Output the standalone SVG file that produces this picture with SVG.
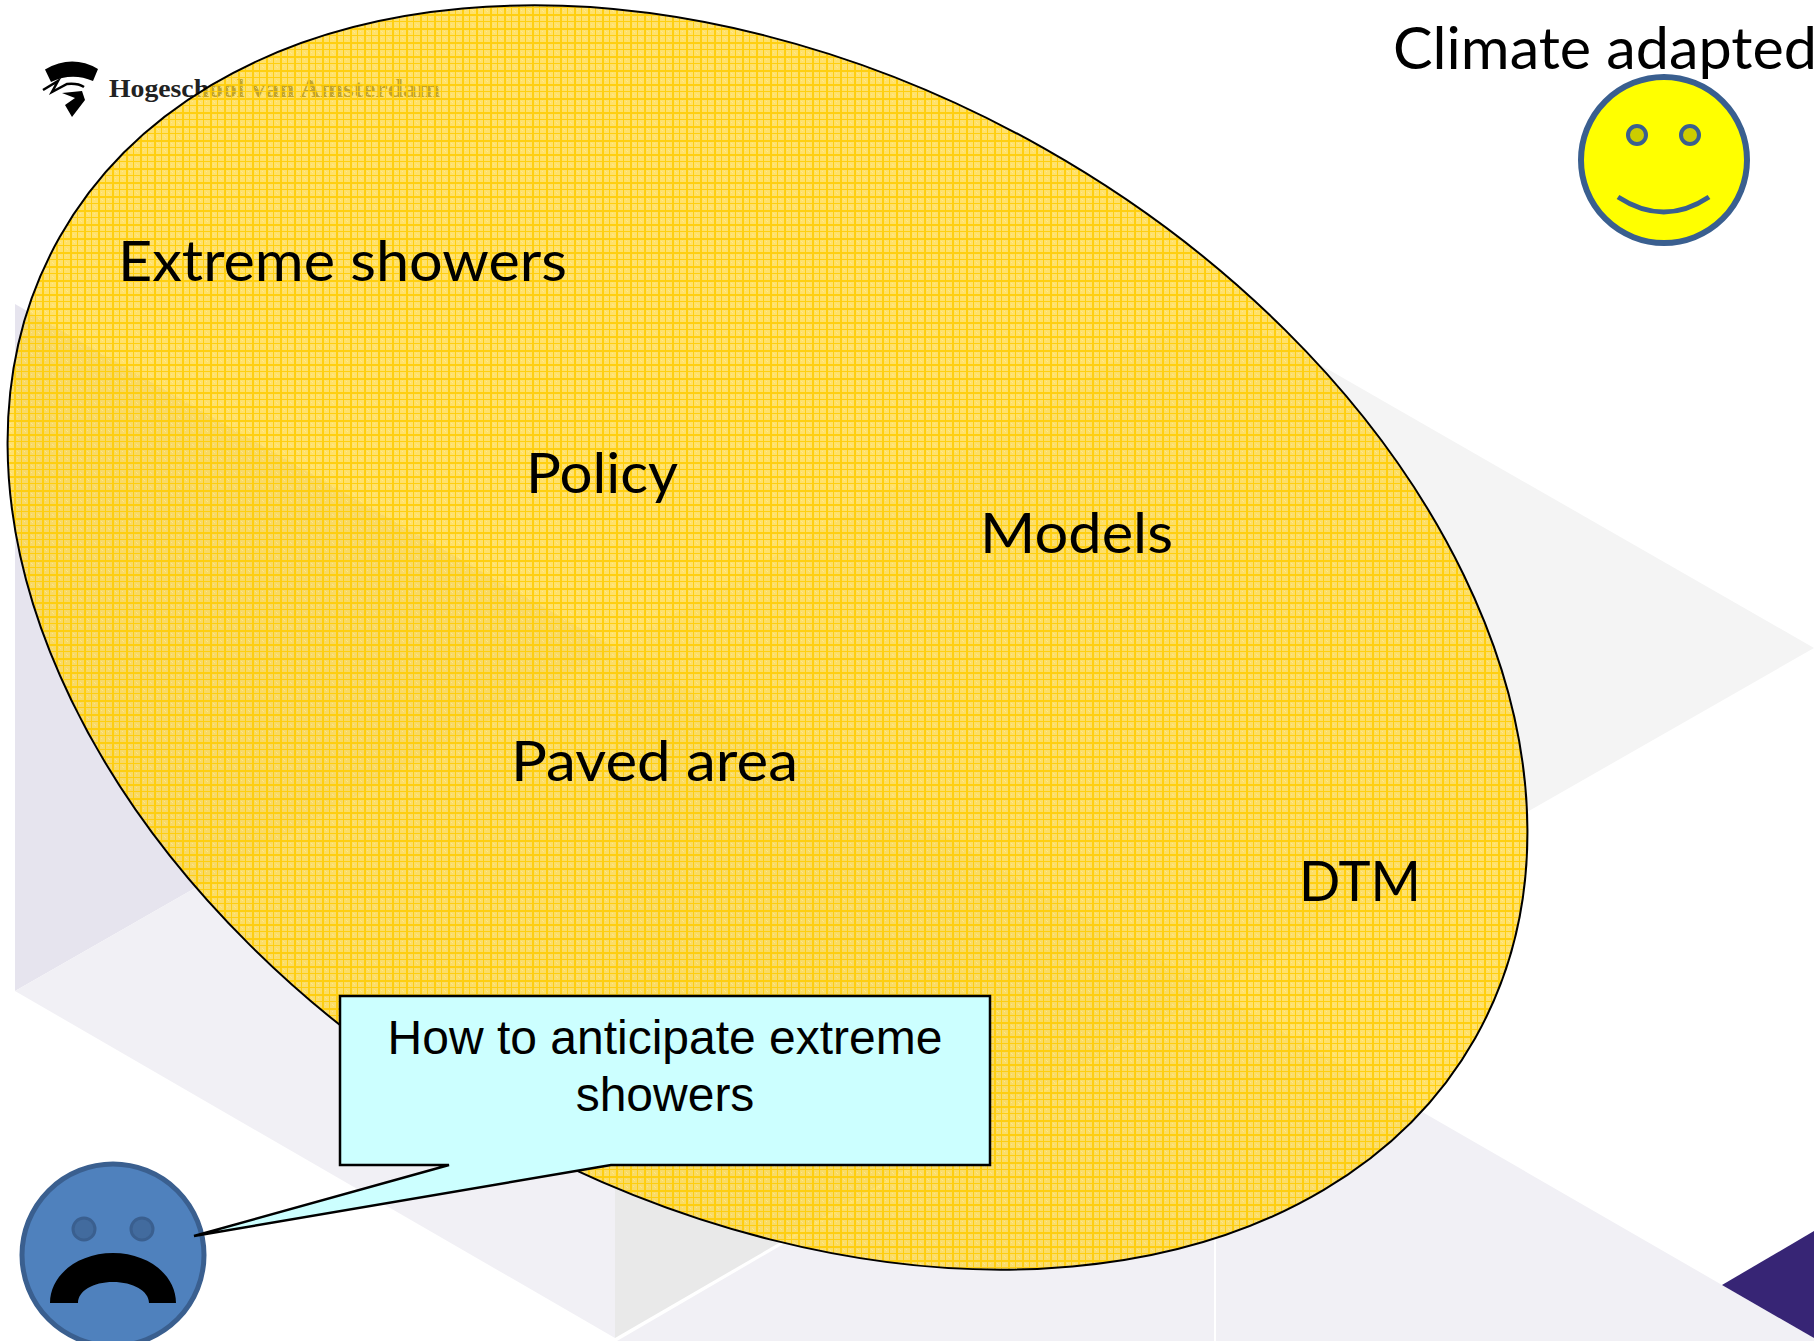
<svg xmlns="http://www.w3.org/2000/svg" width="1814" height="1341" viewBox="0 0 1814 1341">
<style>
.lab{font-family:"Lato","Liberation Sans",sans-serif;font-size:56px;fill:#000}
.call{font-family:"Liberation Sans",Arial,sans-serif;font-size:48px;fill:#000;text-anchor:middle}
.face{stroke:#3A5F8F}
</style>
<defs>
<pattern id="weave" width="14" height="14" patternUnits="userSpaceOnUse">
<rect width="14" height="14" fill="#FFD633" fill-opacity="0.72"/>
<path d="M3 3h1v1h-1zM10 3h1v1h-1zM3 10h1v1h-1zM10 10h1v1h-1zM4 4h1v1h-1zM11 11h1v1h-1z" fill="#FFEFA0" fill-opacity="0.6"/>
<path d="M0 0h2v14h-2zM7 0h1v14h-1zM0 0h14v2h-14zM0 7h14v1h-14z" fill="#FFCC00" fill-opacity="0.85"/>
</pattern>
</defs>
<rect width="1814" height="1341" fill="#fff"/>
<g id="background">
<polygon points="15,304 15,991 615,648" fill="#E6E4EE"/>
<polygon points="15,991 615,648 615,1338" fill="#F1F0F5"/>
<polygon points="615,648 615,1338 1214,991" fill="#E9E9E9"/>
<polygon points="615,648 1214,304 1214,991" fill="#F6F6F6"/>
<polygon points="1214,304 1814,648 1214,991" fill="#F4F4F4"/>
<polygon points="617,1341 1214,993 1214,1341" fill="#F1F0F5"/>
<polygon points="1216,993 1814,1338 1814,1341 1216,1341" fill="#F1F0F5"/>
<polygon points="1722,1285 1814,1231 1814,1338" fill="#372575"/>
</g>
<g id="logo">
<path d="M45 69.500Q72 54 98 69L93 81Q72 72 51 82Z" fill="#000"/>
<path d="M43 90L58 81L52 92L67 84Q78 83 84 87" fill="none" stroke="#000" stroke-width="2.500"/>
<path d="M62 93L82 91L85 100L72 117L65 105L75 98Z" fill="#000"/>
<text x="109" y="97" font-family="'Liberation Serif',serif" font-weight="700" font-size="25" fill="#222" textLength="331" lengthAdjust="spacingAndGlyphs">Hogeschool van Amsterdam</text>
</g>
<g id="ellipse">
<path d="M59.700 237.100A813.200 561.900 29.500 1 1 1475.300 1037.900A813.200 561.900 29.500 1 1 59.700 237.100Z" fill="url(#weave)" stroke="#000" stroke-width="2"/>
</g>
<g id="label-climate"><text class="lab" x="1393" y="69" style="font-size:58px" textLength="424" lengthAdjust="spacingAndGlyphs">Climate adapted</text></g>
<g id="label-extreme"><text class="lab" x="118" y="281" textLength="449" lengthAdjust="spacingAndGlyphs">Extreme showers</text></g>
<g id="label-policy"><text class="lab" x="526" y="493" textLength="152" lengthAdjust="spacingAndGlyphs">Policy</text></g>
<g id="label-models"><text class="lab" x="980" y="553" textLength="193" lengthAdjust="spacingAndGlyphs">Models</text></g>
<g id="label-paved"><text class="lab" x="511" y="781" textLength="287" lengthAdjust="spacingAndGlyphs">Paved area</text></g>
<g id="label-dtm"><text class="lab" x="1299" y="901" textLength="122" lengthAdjust="spacingAndGlyphs">DTM</text></g>
<g id="happy-face">
<circle class="face" cx="1664" cy="160" r="83" fill="#FFFF00" stroke-width="6"/>
<circle class="face" cx="1637" cy="135" r="9" fill="#CCCC00" stroke-width="4"/>
<circle class="face" cx="1690" cy="135" r="9" fill="#CCCC00" stroke-width="4"/>
<path class="face" d="M1618 197Q1664 227 1709 197" fill="none" stroke-width="5"/>
</g>
<g id="sad-face">
<circle class="face" cx="113" cy="1255" r="91" fill="#4F81BD" stroke-width="5"/>
<circle cx="84" cy="1229" r="11" fill="#426B9E" stroke="#3A5F8F" stroke-width="3"/>
<circle cx="142" cy="1229" r="11" fill="#426B9E" stroke="#3A5F8F" stroke-width="3"/>
<path d="M50 1303C50 1275 78 1253 113 1253C148 1253 176 1275 176 1303H149C149 1291 133 1282 113 1282C93 1282 78 1291 78 1303Z" fill="#000"/>
</g>
<g id="callout">
<path d="M340 996H990V1165H611L194 1236L449 1165H340Z" fill="#CCFFFF" stroke="#000" stroke-width="2.500"/>
<text class="call" x="665" y="1054">How to anticipate extreme</text>
<text class="call" x="665" y="1111">showers</text>
</g>
</svg>
